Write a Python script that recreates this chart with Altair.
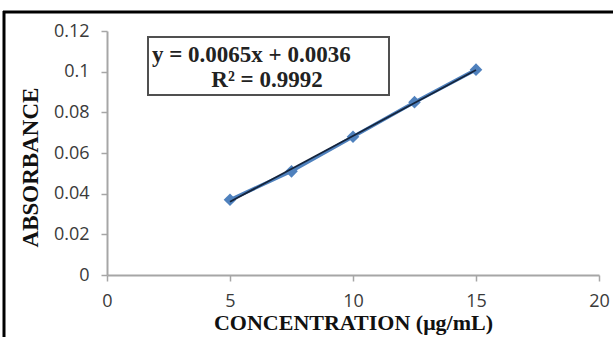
import altair as alt
import pandas as pd

concentration = [5, 7.5, 10, 12.5, 15]
absorbance = [0.037, 0.051, 0.068, 0.085, 0.101]
x_ticks = [0, 5, 10, 15, 20]
y_ticks = [0, 0.02, 0.04, 0.06, 0.08, 0.1, 0.12]
equation_lines = ["y = 0.0065x + 0.0036", "R² = 0.9992"]

df = pd.DataFrame({"conc": concentration, "abs": absorbance})

W, H = 492, 244
SERIF = "Liberation Serif"
SANS = "Open Sans"

x_enc = alt.X(
    "conc:Q",
    scale=alt.Scale(domain=[0, 20], nice=False, zero=False),
    axis=alt.Axis(
        values=x_ticks, title="CONCENTRATION (μg/mL)", grid=False,
        domainColor="#A6A6A6", domainWidth=2, tickColor="#A6A6A6", tickWidth=1.5,
        tickSize=6, labelFont=SANS, labelFontSize=18, labelColor="#3A3A3A",
        labelPadding=11, labelFlush=False,
        titleFont=SERIF, titleFontSize=22, titleFontWeight="bold", titleColor="#111111",
        titleY=37, titleBaseline="top",
    ),
)
y_enc = alt.Y(
    "abs:Q",
    scale=alt.Scale(domain=[0, 0.12], nice=False),
    axis=alt.Axis(
        values=y_ticks, labelExpr="'' + datum.value", title="ABSORBANCE", grid=False,
        domainColor="#A6A6A6", domainWidth=2, tickColor="#A6A6A6", tickWidth=1.5,
        tickSize=6, labelFont=SANS, labelFontSize=18, labelColor="#3A3A3A",
        labelPadding=12, labelFlush=False,
        titleFont=SERIF, titleFontSize=23, titleFontWeight="bold", titleColor="#111111",
        titleX=-77, titleY=136, titleAlign="center", titleBaseline="middle", titleAngle=-90,
    ),
)

base = alt.Chart(df)

data_line = base.mark_line(color="#4F81BD", strokeWidth=3.5).encode(x=x_enc, y=y_enc)
points = base.mark_point(shape="diamond", filled=True, color="#4F81BD", size=160, opacity=1).encode(
    x="conc:Q", y="abs:Q"
)
trend = base.transform_regression("conc", "abs").mark_line(color="#14243C", strokeWidth=1.8).encode(
    x="conc:Q", y="abs:Q"
)

# annotation box
box = alt.Chart(pd.DataFrame({"a": [0]})).mark_rect(
    fill="white", stroke="#505050", strokeWidth=2
).encode(x=alt.value(41), x2=alt.value(282), y=alt.value(6), y2=alt.value(64))
eq1 = alt.Chart(pd.DataFrame({"t": [equation_lines[0]]})).mark_text(
    font=SERIF, fontSize=23, fontWeight="bold", color="#222222", align="left", baseline="alphabetic"
).encode(text="t:N", x=alt.value(45), y=alt.value(31))
eq2 = alt.Chart(pd.DataFrame({"t": [equation_lines[1]]})).mark_text(
    font=SERIF, fontSize=23, fontWeight="bold", color="#222222", align="center", baseline="alphabetic"
).encode(text="t:N", x=alt.value(160), y=alt.value(56))

# outer frame (top and left edges visible)
frame_top = alt.Chart(pd.DataFrame({"a": [0]})).mark_rule(color="black", strokeWidth=3).encode(
    x=alt.value(-104), x2=alt.value(520), y=alt.value(-19)
)
frame_left = alt.Chart(pd.DataFrame({"a": [0]})).mark_rule(color="black", strokeWidth=3).encode(
    x=alt.value(-103), y=alt.value(-20), y2=alt.value(330)
)

chart = alt.layer(data_line, points, trend, box, eq1, eq2, frame_top, frame_left).properties(
    width=W, height=H,
    autosize=alt.AutoSizeParams(type="none"),
    padding={"left": 107, "top": 31, "right": 14, "bottom": 62},
    background="white",
).configure_view(stroke=None)

chart.save("out.html", embed_options={"renderer": "svg", "actions": False})
